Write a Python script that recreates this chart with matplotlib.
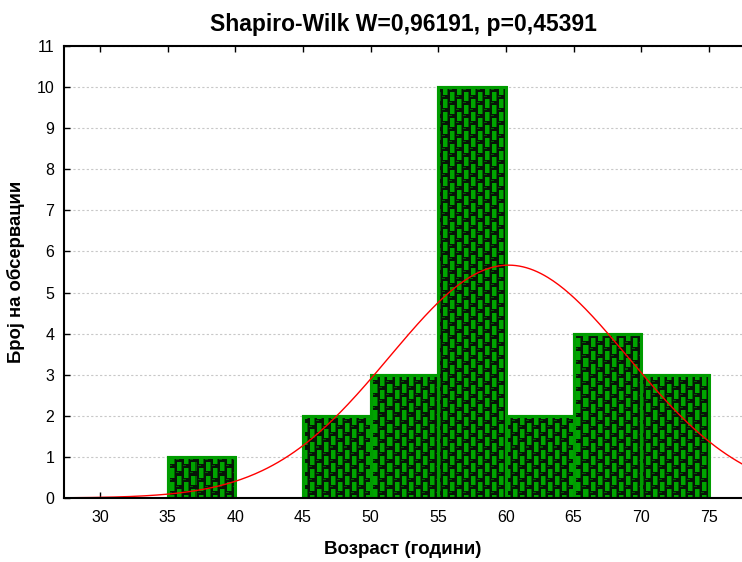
import numpy as np
import matplotlib.pyplot as plt

plt.rcParams['font.family'] = ['Liberation Sans', 'DejaVu Sans']

# хистограм: левни рабови на класите, ширина и фреквенции
bin_left = [35, 45, 50, 55, 60, 65, 70]
bin_width = 5
counts = [1, 2, 3, 10, 2, 4, 3]

# нормална крива (очекувани фреквенции)
mu, sd = 60.2, 8.8
n_obs = sum(counts)

x_ticks = [30, 35, 40, 45, 50, 55, 60, 65, 70, 75]
y_ticks = list(range(0, 12))

W, H, DPI = 742, 562, 100
fig = plt.figure(figsize=(W / DPI, H / DPI), dpi=DPI)
ax = fig.add_axes([64 / W, 1 - 498 / H, 678 / W, 452 / H])

xlim = (27.34, 77.45)
ylim = (0, 11)
ax.set_xlim(*xlim)
ax.set_ylim(*ylim)

ax.yaxis.grid(True, color='#c8c8c8', linestyle=(0, (2, 2)), linewidth=0.8)
ax.set_axisbelow(True)

green = '#009c00'
bars = ax.bar(bin_left, counts, width=bin_width, align='edge',
              color=green, edgecolor=green, linewidth=1.5, zorder=2)

# шара „тули" како текстура во пиксели
ph, pw = 452, 678
g = np.array([0.0, 0.65, 0.0])
dg = np.array([0.0, 0.38, 0.0])
col = np.zeros((13, 7, 3))
col[:, :] = [0.03, 0.08, 0.03]
col[1:10, 1:6] = dg
col[1:10, 1:5] = g
col[11, 0:3] = dg
tile = np.concatenate([col, np.roll(col, 6, axis=0)], axis=1)
reps = (ph // 13 + 2, pw // 14 + 2, 1)
tex = np.tile(tile, reps)[:ph, :pw]
for b in bars:
    im = ax.imshow(tex, extent=(xlim[0], xlim[1], ylim[0], ylim[1]),
                   aspect='auto', interpolation='nearest', zorder=2.5,
                   origin='upper')
    inner = plt.Rectangle((b.get_x(), b.get_y()), b.get_width(), b.get_height(),
                          transform=ax.transData)
    im.set_clip_path(inner)
    ax.add_patch(plt.Rectangle((b.get_x(), b.get_y()), b.get_width(), b.get_height(),
                               fill=False, edgecolor=green, linewidth=2.2, zorder=3))
ax.set_xlim(*xlim)
ax.set_ylim(*ylim)

xs = np.linspace(xlim[0], 80, 400)
ys = n_obs * bin_width / (sd * np.sqrt(2 * np.pi)) * np.exp(-0.5 * ((xs - mu) / sd) ** 2)
ax.plot(xs, ys, color='#ff0000', linewidth=1.0, zorder=4, clip_on=False)
ax.set_xlim(*xlim)

ax.set_xticks(x_ticks)
ax.set_yticks(y_ticks)
ax.tick_params(direction='in', length=4, width=1, labelsize=11.5, colors='black',
               top=True)
ax.tick_params(axis='x', pad=9)
ax.tick_params(axis='y', pad=7)
ax.spines['right'].set_visible(False)
for s in ('left', 'bottom', 'top'):
    ax.spines[s].set_linewidth(1.5)
    ax.spines[s].set_zorder(5)

ax.set_title('Shapiro-Wilk W=0,96191, p=0,45391', fontsize=16.5,
             fontweight='bold', pad=11)
ax.set_xlabel('Возраст (години)', fontsize=13.5, fontweight='bold')
ax.set_ylabel('Број на обсервации', fontsize=13.3, fontweight='bold')
ax.xaxis.set_label_coords(0.5, -0.095)
ax.yaxis.set_label_coords(-0.057, 0.5)

fig.savefig('out.png', dpi=DPI)
